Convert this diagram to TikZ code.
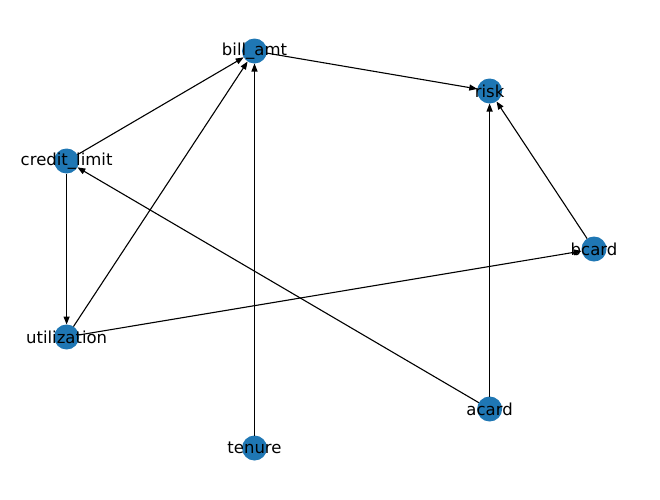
\documentclass[tikz,border=0pt]{standalone}
\usepackage{fontspec}
\setmainfont{DejaVu Sans}
\usetikzlibrary{arrows.meta}
\definecolor{nxblue}{HTML}{1F77B4}

\begin{document}
\begin{tikzpicture}[x=1pt,y=-1pt,
		vnode/.style={circle, fill=nxblue, minimum size=25pt, inner sep=0pt, outer sep=0pt},
		vlabel/.style={font=\fontsize{16.5}{18}\selectfont, inner sep=0pt},
		edge/.style={line width=1.1pt, -{Triangle[length=8pt,width=6pt]}}]
		\useasboundingbox (0,0) rectangle (660,499);
		\node[vnode] (bill) at (254.5,51) {};
		\node[vnode] (risk) at (489.6,91) {};
		\node[vnode] (credit) at (66.6,161) {};
		\node[vnode] (bcard) at (594,249) {};
		\node[vnode] (util) at (66.6,337) {};
		\node[vnode] (acard) at (489.6,409) {};
		\node[vnode] (tenure) at (254.5,448) {};
		\draw[edge] (bill) -- (risk);
		\draw[edge] (credit) -- (bill);
		\draw[edge] (util) -- (bill);
		\draw[edge] (tenure) -- (bill);
		\draw[edge] (credit) -- (util);
		\draw[edge] (util) -- (bcard);
		\draw[edge] (acard) -- (credit);
		\draw[edge] (acard) -- (risk);
		\draw[edge] (bcard) -- (risk);
		\node[vlabel] at (bill) {bill\_amt};
		\node[vlabel] at (risk) {risk};
		\node[vlabel] at (credit) {credit\_limit};
		\node[vlabel] at (bcard) {bcard};
		\node[vlabel] at (util) {utilization};
		\node[vlabel] at (acard) {acard};
		\node[vlabel] at (tenure) {tenure};
	\end{tikzpicture}
\end{document}
